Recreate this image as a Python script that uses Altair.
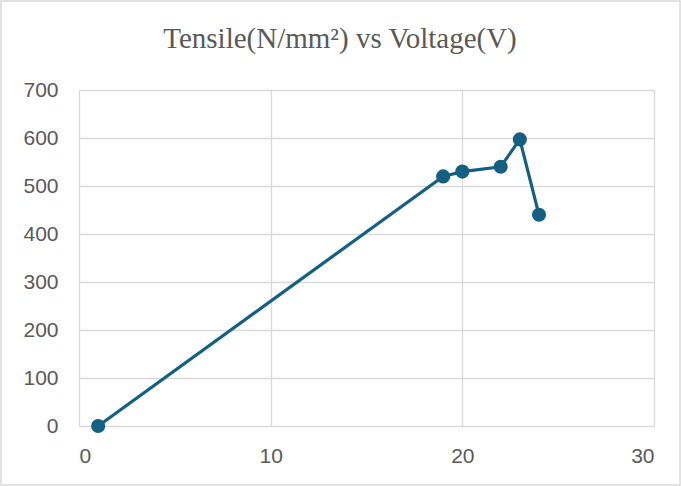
import altair as alt
import pandas as pd

# Tensile strength measured at each welding voltage
voltage = [1, 19, 20, 22, 23, 24]
tensile = [0, 520, 530, 540, 597, 440]

x_ticks = [0, 10, 20, 30]
y_ticks = [0, 100, 200, 300, 400, 500, 600, 700]
chart_title = "Tensile(N/mm²) vs Voltage(V)"

LINE_COLOR = "#156082"
TEXT_COLOR = "#595959"
GRID_COLOR = "#d9d9d9"

df = pd.DataFrame({"voltage": voltage, "tensile": tensile})

W, H = 575, 336
PAD = {"left": 79, "top": 90, "right": 27, "bottom": 60}

x_enc = alt.X(
    "voltage:Q",
    scale=alt.Scale(domain=[0, 30], nice=False),
    axis=alt.Axis(values=x_ticks, title=None, grid=True, ticks=False, domain=False,
                  labelPadding=19, format="d"),
)
y_enc = alt.Y(
    "tensile:Q",
    scale=alt.Scale(domain=[0, 700], nice=False),
    axis=alt.Axis(values=y_ticks, title=None, grid=True, ticks=False, domain=False,
                  labelPadding=21, format="d"),
)

base = alt.Chart(df).encode(x=x_enc, y=y_enc)

line = base.mark_line(color=LINE_COLOR, strokeWidth=3.2)
points = base.mark_circle(color=LINE_COLOR, size=200, opacity=1)

one_row = pd.DataFrame({"label": [chart_title]})

# light frame around the whole chart area
frame = alt.Chart(one_row).mark_rect(
    fill=None, stroke=GRID_COLOR, strokeWidth=1.5
).encode(
    x=alt.value(-PAD["left"] + 1),
    x2=alt.value(W + PAD["right"] - 1),
    y=alt.value(-PAD["top"] + 1),
    y2=alt.value(H + PAD["bottom"] - 1),
)

# chart heading, centred on the whole chart area
heading = alt.Chart(one_row).mark_text(
    font="Liberation Serif", fontSize=29, color=TEXT_COLOR,
    align="center", baseline="alphabetic",
).encode(
    text="label:N",
    x=alt.value(340 - PAD["left"]),
    y=alt.value(48 - PAD["top"]),
)

chart = alt.layer(frame, line, points, heading).properties(
    width=W,
    height=H,
    padding=PAD,
    autosize=alt.AutoSizeParams(type="none"),
    background="white",
).configure_view(stroke=None).configure_axis(
    labelFont="Liberation Sans",
    labelFontSize=21,
    labelColor=TEXT_COLOR,
    gridColor=GRID_COLOR,
    gridWidth=1.3,
)

chart.save("out.html", embed_options={"renderer": "svg", "actions": False})
